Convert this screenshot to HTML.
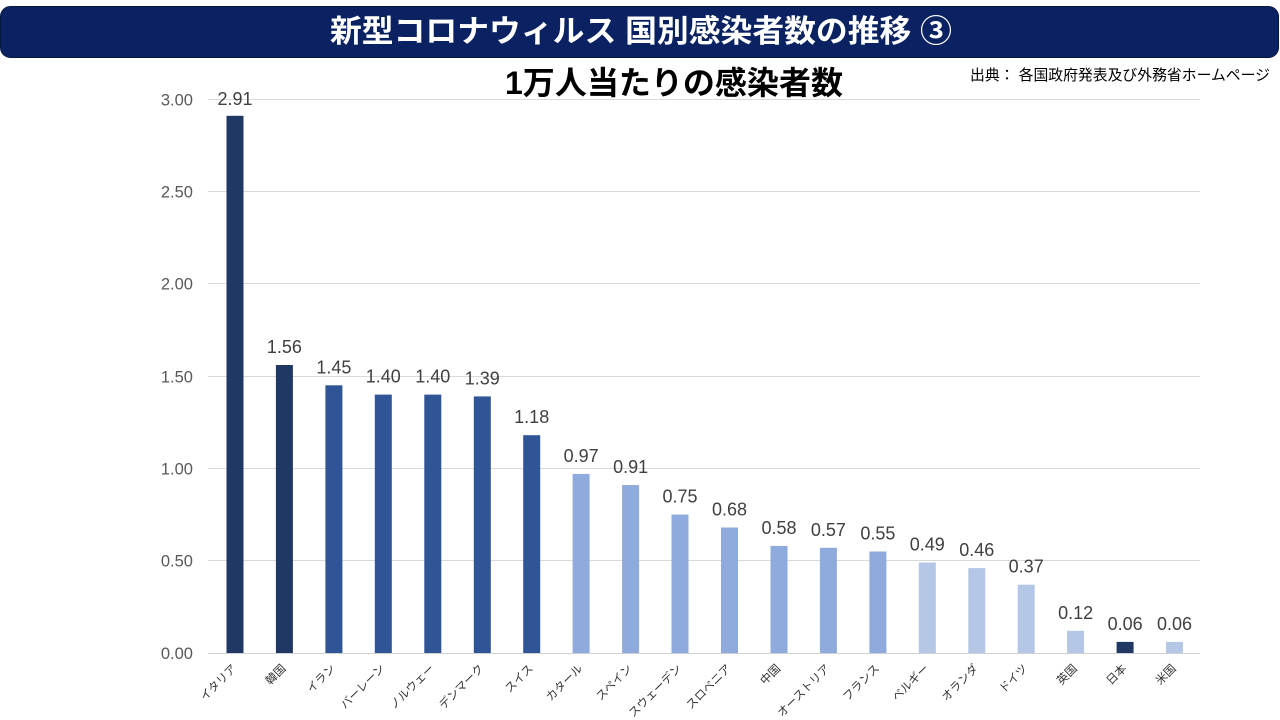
<!DOCTYPE html>
<html>
<head>
<meta charset="utf-8">
<style>
html,body{margin:0;padding:0;background:#fff;}
svg{display:block;}
text{font-family:"Liberation Sans","Noto Sans CJK JP",sans-serif;}
</style>
</head>
<body>
<svg width="1280" height="720" viewBox="0 0 1280 720" xmlns="http://www.w3.org/2000/svg">
<rect x="0" y="0" width="1280" height="720" fill="#ffffff"/>
<!-- Title bar -->
<rect x="0.5" y="6.5" width="1278" height="51" rx="10" ry="10" fill="#0a2261" stroke="#06173f" stroke-width="1"/>
<text x="330" y="42" font-size="31" font-weight="bold" fill="#ffffff" textLength="622" lengthAdjust="spacingAndGlyphs">新型コロナウィルス 国別感染者数の推移 ③</text>
<!-- Subtitle -->
<text x="505" y="94" font-size="32" font-weight="bold" fill="#000000" textLength="338" lengthAdjust="spacingAndGlyphs">1万人当たりの感染者数</text>
<!-- Source -->
<text x="970" y="80" font-size="15" fill="#000000" textLength="300" lengthAdjust="spacingAndGlyphs">出典： 各国政府発表及び外務省ホームページ</text>

<!-- Gridlines -->
<g stroke="#d9d9d9" stroke-width="1">
<line x1="208" y1="99.5" x2="1200" y2="99.5"/>
<line x1="208" y1="191.5" x2="1200" y2="191.5"/>
<line x1="208" y1="283.5" x2="1200" y2="283.5"/>
<line x1="208" y1="376.5" x2="1200" y2="376.5"/>
<line x1="208" y1="468.5" x2="1200" y2="468.5"/>
<line x1="208" y1="560.5" x2="1200" y2="560.5"/>
</g>
<line x1="208" y1="653.5" x2="1200" y2="653.5" stroke="#d0d0d0" stroke-width="1"/>

<!-- Y labels -->
<g font-size="16.5" fill="#595959" text-anchor="end">
<text x="193" y="105.5">3.00</text>
<text x="193" y="197.5">2.50</text>
<text x="193" y="289.5">2.00</text>
<text x="193" y="382.5">1.50</text>
<text x="193" y="474.5">1.00</text>
<text x="193" y="566.5">0.50</text>
<text x="193" y="659">0.00</text>
</g>

<!-- Bars -->
<g>
<rect x="226.5" y="115.8" width="17" height="537.2" fill="#203864"/>
<rect x="275.9" y="365.0" width="17" height="288.0" fill="#203864"/>
<rect x="325.4" y="385.3" width="17" height="267.7" fill="#2f5597"/>
<rect x="374.8" y="394.6" width="17" height="258.4" fill="#2f5597"/>
<rect x="424.3" y="394.6" width="17" height="258.4" fill="#2f5597"/>
<rect x="473.8" y="396.4" width="17" height="256.6" fill="#2f5597"/>
<rect x="523.2" y="435.2" width="17" height="217.8" fill="#2f5597"/>
<rect x="572.6" y="473.9" width="17" height="179.1" fill="#8faadc"/>
<rect x="622.1" y="485.0" width="17" height="168.0" fill="#8faadc"/>
<rect x="671.5" y="514.6" width="17" height="138.4" fill="#8faadc"/>
<rect x="721.0" y="527.5" width="17" height="125.5" fill="#8faadc"/>
<rect x="770.5" y="545.9" width="17" height="107.1" fill="#8faadc"/>
<rect x="819.9" y="547.8" width="17" height="105.2" fill="#8faadc"/>
<rect x="869.4" y="551.5" width="17" height="101.5" fill="#8faadc"/>
<rect x="918.8" y="562.5" width="17" height="90.5" fill="#b4c7e7"/>
<rect x="968.3" y="568.1" width="17" height="84.9" fill="#b4c7e7"/>
<rect x="1017.7" y="584.7" width="17" height="68.3" fill="#b4c7e7"/>
<rect x="1067.1" y="630.8" width="17" height="22.2" fill="#b4c7e7"/>
<rect x="1116.6" y="641.9" width="17" height="11.1" fill="#203864"/>
<rect x="1166.0" y="641.9" width="17" height="11.1" fill="#b4c7e7"/>
</g>

<!-- Data labels -->
<g font-size="18" fill="#404040" text-anchor="middle">
<text x="235.0" y="104.8">2.91</text>
<text x="284.4" y="353.0">1.56</text>
<text x="333.9" y="373.3">1.45</text>
<text x="383.3" y="382.6">1.40</text>
<text x="432.8" y="382.6">1.40</text>
<text x="482.3" y="384.4">1.39</text>
<text x="531.7" y="423.2">1.18</text>
<text x="581.1" y="461.9">0.97</text>
<text x="630.6" y="473.0">0.91</text>
<text x="680.0" y="502.6">0.75</text>
<text x="729.5" y="515.5">0.68</text>
<text x="779.0" y="533.9">0.58</text>
<text x="828.4" y="535.8">0.57</text>
<text x="877.9" y="539.5">0.55</text>
<text x="927.3" y="550.5">0.49</text>
<text x="976.8" y="556.1">0.46</text>
<text x="1026.2" y="572.7">0.37</text>
<text x="1075.6" y="618.8">0.12</text>
<text x="1125.1" y="629.9">0.06</text>
<text x="1174.5" y="629.9">0.06</text>
</g>

<!-- X labels -->
<g font-size="11.5" fill="#333333" text-anchor="end" dominant-baseline="central">
<text x="235.0" y="667" transform="rotate(-45 235.0 667)">イタリア</text>
<text x="284.4" y="667" transform="rotate(-45 284.4 667)">韓国</text>
<text x="333.9" y="667" transform="rotate(-45 333.9 667)">イラン</text>
<text x="383.3" y="667" transform="rotate(-45 383.3 667)">バーレーン</text>
<text x="432.8" y="667" transform="rotate(-45 432.8 667)">ノルウェー</text>
<text x="482.3" y="667" transform="rotate(-45 482.3 667)">デンマーク</text>
<text x="531.7" y="667" transform="rotate(-45 531.7 667)">スイス</text>
<text x="581.1" y="667" transform="rotate(-45 581.1 667)">カタール</text>
<text x="630.6" y="667" transform="rotate(-45 630.6 667)">スペイン</text>
<text x="680.0" y="667" transform="rotate(-45 680.0 667)">スウェーデン</text>
<text x="729.5" y="667" transform="rotate(-45 729.5 667)">スロベニア</text>
<text x="779.0" y="667" transform="rotate(-45 779.0 667)">中国</text>
<text x="828.4" y="667" transform="rotate(-45 828.4 667)">オーストリア</text>
<text x="877.9" y="667" transform="rotate(-45 877.9 667)">フランス</text>
<text x="927.3" y="667" transform="rotate(-45 927.3 667)">ベルギー</text>
<text x="976.8" y="667" transform="rotate(-45 976.8 667)">オランダ</text>
<text x="1026.2" y="667" transform="rotate(-45 1026.2 667)">ドイツ</text>
<text x="1075.6" y="667" transform="rotate(-45 1075.6 667)">英国</text>
<text x="1125.1" y="667" transform="rotate(-45 1125.1 667)">日本</text>
<text x="1174.5" y="667" transform="rotate(-45 1174.5 667)">米国</text>
</g>
</svg>
</body>
</html>
